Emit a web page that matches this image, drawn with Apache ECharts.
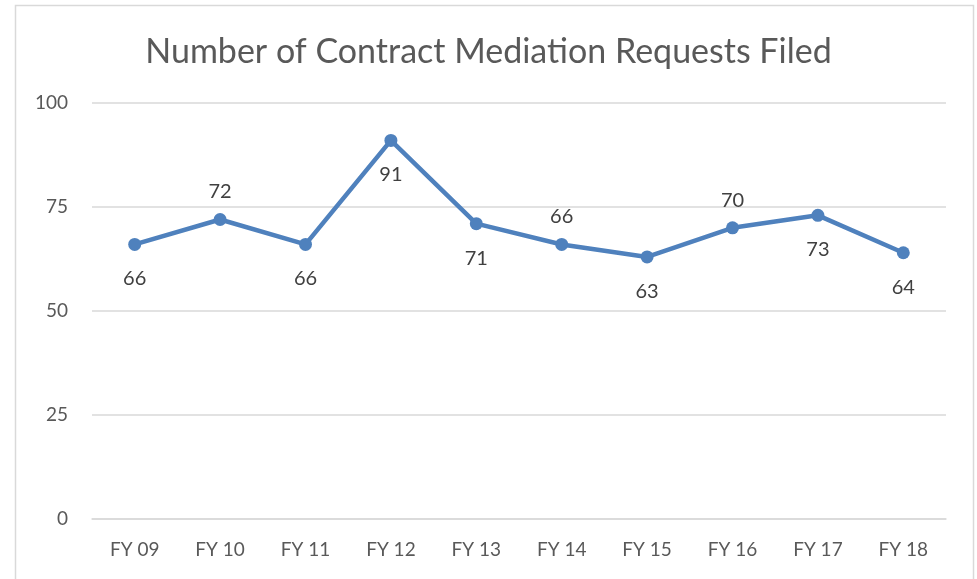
<!DOCTYPE html>
<html><head><meta charset="utf-8">
<script src="https://cdn.jsdelivr.net/npm/echarts@6/dist/echarts.min.js"></script>
<style>html,body{margin:0;padding:0;background:#fff}#c{width:977px;height:579px}</style>
</head><body><div id="c"></div>
<script>
const categories = ['FY 09','FY 10','FY 11','FY 12','FY 13','FY 14','FY 15','FY 16','FY 17','FY 18'];
const values = [66, 72, 66, 91, 71, 66, 63, 70, 73, 64];
const labelPositions = ['bottom','top','bottom','bottom','bottom','top','bottom','top','bottom','bottom'];
const yTicks = [0, 25, 50, 75, 100];
const title = 'Number of Contract Mediation Requests Filed';

const font = 'Lato, "Open Sans", sans-serif';
const chart = echarts.init(document.getElementById('c'), null, {renderer:'canvas'});
chart.setOption({
  animation: false,
  backgroundColor: '#fff',
  graphic: [{type:'rect', shape:{x:15.5, y:5.5, width:958, height:620}, style:{fill:'none', stroke:'#d9d9d9', lineWidth:1.5}, silent:true}],
  title: {text: title, left: 'center', top: 30, textStyle:{fontFamily: font, fontWeight:'normal', fontSize: 34, color:'#595959'}},
  grid: {left: 92, right: 31, top: 103, bottom: 60},
  xAxis: {type:'category', data: categories, boundaryGap: true,
    axisLine:{show:true, lineStyle:{color:'#d9d9d9', width:1.5}}, axisTick:{show:false},
    axisLabel:{fontFamily: font, fontSize: 19, color:'#595959', margin: 21}},
  yAxis: {type:'value', min: yTicks[0], max: yTicks[yTicks.length-1], interval: 25,
    axisLine:{show:false}, axisTick:{show:false},
    splitLine:{lineStyle:{color:'#d9d9d9', width:1.5}},
    axisLabel:{fontFamily: font, fontSize: 19, color:'#595959', margin: 24}},
  series: [{type:'line', data: values.map((v,i)=>({value:v, label:{position: labelPositions[i], distance: labelPositions[i]==='top' ? 11 : 18}})),
    symbol:'circle', symbolSize: 13,
    lineStyle:{color:'#4f81bd', width: 4.5}, itemStyle:{color:'#4f81bd'},
    label:{show:true, fontFamily: font, fontSize: 20, color:'#404040'}}]
});
</script></body></html>
